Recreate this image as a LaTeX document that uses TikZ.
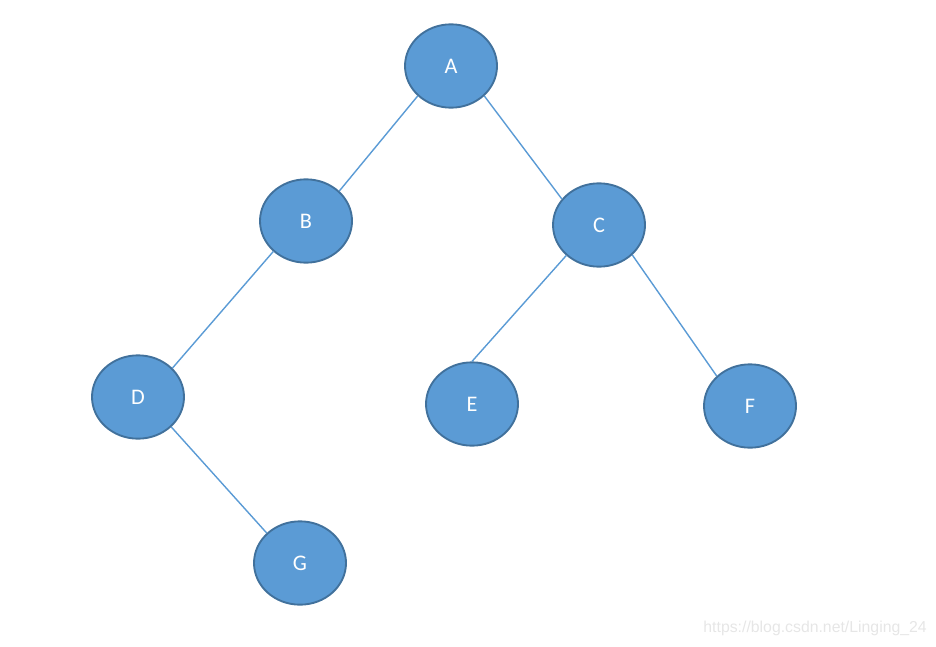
\documentclass[tikz,border=0pt]{standalone}
\usepackage{fontspec}
\setmainfont{Carlito}
\newfontfamily\markfont{Liberation Sans}
\definecolor{nodefill}{HTML}{5B9BD5}
\definecolor{nodeline}{HTML}{41719C}
\definecolor{markgray}{HTML}{E6E6E6}
\tikzset{
  treenode/.style={ellipse, draw=nodeline, fill=nodefill, line width=1.6pt,
    minimum width=2.76cm, minimum height=2.5cm, inner sep=0pt,
    text=white, font=\fontsize{19}{19}\selectfont},
  edge/.style={draw=nodefill, line width=1.2pt}
}
\usetikzlibrary{shapes.geometric}
\begin{document}
\begin{tikzpicture}[x=0.03cm,y=-0.03cm]
      \useasboundingbox (0,0) rectangle (936,646);
      % nodes
      \node[treenode] (A) at (451,66) {A};
      \node[treenode] (B) at (306,221) {B};
      \node[treenode] (C) at (599,225) {C};
      \node[treenode] (D) at (138,397) {D};
      \node[treenode] (E) at (472,404) {E};
      \node[treenode] (F) at (750,406) {F};
      \node[treenode] (G) at (300,563) {G};
      % edges
      \draw[edge] (A.222) -- (B.42);
      \draw[edge] (A.318) -- (C.145);
      \draw[edge] (B.223) -- (D.40);
      \draw[edge] (C.223) -- (E.90);
      \draw[edge] (C.318) -- (F.138);
      \draw[edge] (D.318) -- (G.138);
      \node[anchor=east, text=markgray, font=\markfont\fontsize{13.5}{13.5}\selectfont, inner sep=0pt] (mark) at (927,628) {https://blog.csdn.net/Linging\_24};
    \end{tikzpicture}
\end{document}
